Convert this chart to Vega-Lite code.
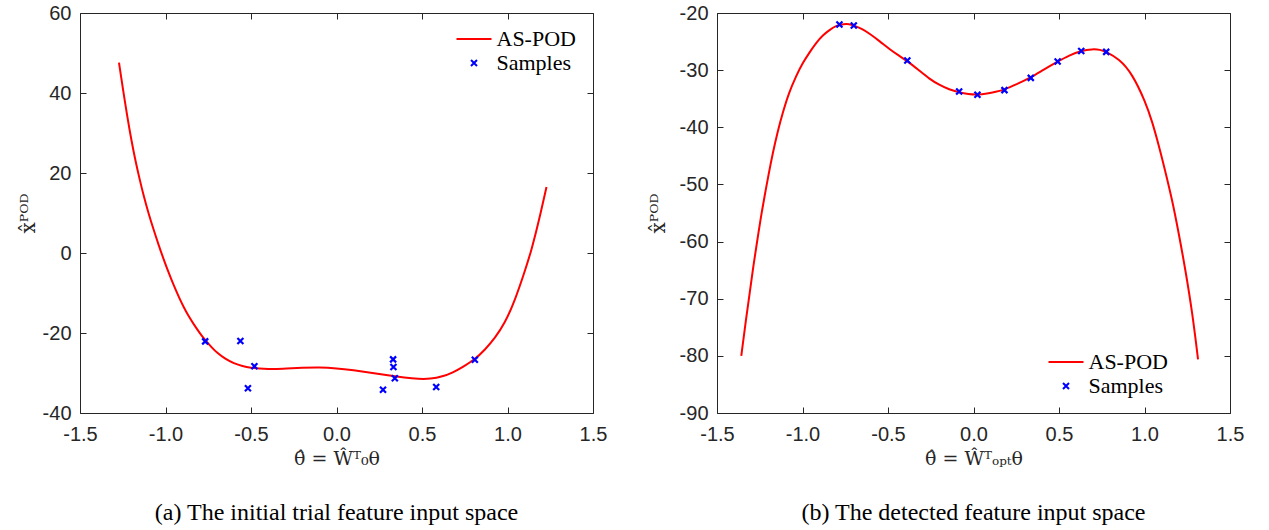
{
  "$schema": "https://vega.github.io/schema/vega-lite/v6.json",
  "background": "white",
  "padding": {"left": 17, "top": 2, "right": 5, "bottom": 0},
  "spacing": 39,
  "resolve": {"scale": {"color": "independent", "shape": "independent"}, "legend": {"color": "independent", "shape": "independent"}},
  "config": {
    "view": {"stroke": "#262626", "strokeWidth": 1},
    "axis": {
      "grid": false,
      "domain": false,
      "ticks": true,
      "tickSize": 6,
      "offset": -6,
      "tickColor": "#262626",
      "tickWidth": 1,
      "labelColor": "#262626",
      "titleColor": "#262626",
      "labelFont": "Liberation Sans",
      "labelFontSize": 20,
      "titleFont": "DejaVu Serif",
      "titleFontSize": 19,
      "titleFontWeight": "normal",
      "labelFlush": false
    },
    "axisX": {"labelPadding": 11, "titlePadding": 5},
    "axisY": {"labelPadding": 9, "titleFontSize": 20},
    "legend": {
      "title": null,
      "labelFont": "Liberation Serif",
      "labelFontSize": 22,
      "labelColor": "black",
      "symbolStrokeWidth": 2,
      "symbolSize": 400,
      "labelOffset": 11.5,
      "rowPadding": 2,
      "padding": 0,
      "labelLimit": 300
    }
  },
  "datasets": {
    "curveA": [
      {"x": -1.272, "y": 47.6}, {"x": -1.25, "y": 41.3}, {"x": -1.224, "y": 34.2}, {"x": -1.2, "y": 28.3},
      {"x": -1.175, "y": 22.9}, {"x": -1.15, "y": 18.2}, {"x": -1.126, "y": 14.0}, {"x": -1.1, "y": 10.0},
      {"x": -1.068, "y": 5.6}, {"x": -1.04, "y": 2.0}, {"x": -1.01, "y": -1.7}, {"x": -0.98, "y": -5.1},
      {"x": -0.951, "y": -8.2}, {"x": -0.92, "y": -11.2}, {"x": -0.893, "y": -13.6}, {"x": -0.865, "y": -15.8},
      {"x": -0.835, "y": -17.8}, {"x": -0.8, "y": -20.0}, {"x": -0.766, "y": -21.9}, {"x": -0.73, "y": -23.6},
      {"x": -0.7, "y": -24.9}, {"x": -0.65, "y": -26.5}, {"x": -0.6, "y": -27.6}, {"x": -0.55, "y": -28.3},
      {"x": -0.5, "y": -28.7}, {"x": -0.45, "y": -28.9}, {"x": -0.4, "y": -29.0}, {"x": -0.35, "y": -29.0},
      {"x": -0.3, "y": -28.9}, {"x": -0.2, "y": -28.7}, {"x": -0.1, "y": -28.6}, {"x": 0.0, "y": -28.8},
      {"x": 0.1, "y": -29.3}, {"x": 0.2, "y": -29.9}, {"x": 0.3, "y": -30.6}, {"x": 0.4, "y": -31.2},
      {"x": 0.48, "y": -31.5}, {"x": 0.55, "y": -31.5}, {"x": 0.62, "y": -30.9}, {"x": 0.68, "y": -29.9},
      {"x": 0.74, "y": -28.5}, {"x": 0.809, "y": -26.6}, {"x": 0.868, "y": -24.2}, {"x": 0.926, "y": -21.3},
      {"x": 0.984, "y": -17.6}, {"x": 1.043, "y": -11.9}, {"x": 1.101, "y": -4.6}, {"x": 1.14, "y": 0.7},
      {"x": 1.179, "y": 7.2}, {"x": 1.228, "y": 16.5}
    ],
    "samplesA": [
      {"x": -0.768, "y": -22.1, "series": "Samples"},
      {"x": -0.562, "y": -22.0, "series": "Samples"},
      {"x": -0.48, "y": -28.3, "series": "Samples"},
      {"x": -0.518, "y": -33.8, "series": "Samples"},
      {"x": 0.331, "y": -26.6, "series": "Samples"},
      {"x": 0.333, "y": -28.5, "series": "Samples"},
      {"x": 0.341, "y": -31.3, "series": "Samples"},
      {"x": 0.272, "y": -34.2, "series": "Samples"},
      {"x": 0.583, "y": -33.5, "series": "Samples"},
      {"x": 0.809, "y": -26.7, "series": "Samples"}
    ],
    "curveB": [
      {"x": -1.358, "y": -80.0}, {"x": -1.33, "y": -73.5}, {"x": -1.309, "y": -69.1}, {"x": -1.29, "y": -64.8},
      {"x": -1.27, "y": -60.9}, {"x": -1.245, "y": -56.0}, {"x": -1.222, "y": -52.1}, {"x": -1.2, "y": -48.5},
      {"x": -1.173, "y": -44.4}, {"x": -1.145, "y": -40.7}, {"x": -1.115, "y": -37.4}, {"x": -1.08, "y": -34.0},
      {"x": -1.037, "y": -31.0}, {"x": -1.0, "y": -28.8}, {"x": -0.959, "y": -26.9}, {"x": -0.92, "y": -25.2},
      {"x": -0.881, "y": -23.9}, {"x": -0.84, "y": -22.9}, {"x": -0.8, "y": -22.2}, {"x": -0.76, "y": -21.9},
      {"x": -0.726, "y": -21.9}, {"x": -0.7, "y": -22.2}, {"x": -0.65, "y": -22.8}, {"x": -0.609, "y": -23.6},
      {"x": -0.55, "y": -24.9}, {"x": -0.492, "y": -26.3}, {"x": -0.44, "y": -27.4}, {"x": -0.387, "y": -28.4},
      {"x": -0.32, "y": -30.0}, {"x": -0.259, "y": -31.5}, {"x": -0.2, "y": -32.6}, {"x": -0.142, "y": -33.4},
      {"x": -0.084, "y": -33.9}, {"x": -0.03, "y": -34.2}, {"x": 0.023, "y": -34.3}, {"x": 0.08, "y": -34.1},
      {"x": 0.13, "y": -33.8}, {"x": 0.181, "y": -33.4}, {"x": 0.25, "y": -32.5}, {"x": 0.335, "y": -31.3},
      {"x": 0.41, "y": -29.9}, {"x": 0.492, "y": -28.5}, {"x": 0.56, "y": -27.4}, {"x": 0.63, "y": -26.6},
      {"x": 0.695, "y": -26.3}, {"x": 0.74, "y": -26.4}, {"x": 0.776, "y": -26.8}, {"x": 0.85, "y": -28.0},
      {"x": 0.928, "y": -30.6}, {"x": 1.006, "y": -35.6}, {"x": 1.045, "y": -39.0}, {"x": 1.084, "y": -43.2},
      {"x": 1.12, "y": -47.5}, {"x": 1.161, "y": -52.6}, {"x": 1.2, "y": -58.5}, {"x": 1.239, "y": -64.9},
      {"x": 1.28, "y": -72.5}, {"x": 1.313, "y": -80.6}
    ],
    "samplesB": [
      {"x": -0.784, "y": -22.0, "series": "Samples"},
      {"x": -0.7, "y": -22.2, "series": "Samples"},
      {"x": -0.387, "y": -28.3, "series": "Samples"},
      {"x": -0.084, "y": -33.75, "series": "Samples"},
      {"x": 0.023, "y": -34.3, "series": "Samples"},
      {"x": 0.181, "y": -33.5, "series": "Samples"},
      {"x": 0.335, "y": -31.35, "series": "Samples"},
      {"x": 0.492, "y": -28.5, "series": "Samples"},
      {"x": 0.63, "y": -26.65, "series": "Samples"},
      {"x": 0.776, "y": -26.8, "series": "Samples"}
    ]
  },
  "hconcat": [
    {
      "width": 513,
      "height": 400,
      "title": {"text": "(a) The initial trial feature input space", "orient": "bottom", "anchor": "middle", "font": "Liberation Serif", "fontSize": 24, "fontWeight": "normal", "color": "black", "offset": 33},
      "resolve": {"axis": {"x": "independent", "y": "independent"}},
      "layer": [
        {
          "data": {"name": "curveA"},
          "mark": {"type": "line", "color": "#ff0000", "strokeWidth": 2, "interpolate": "basis"},
          "encoding": {
            "x": {"field": "x", "type": "quantitative", "scale": {"domain": [-1.5, 1.5], "nice": false, "zero": false},
              "axis": {"orient": "bottom", "values": [-1.5, -1, -0.5, 0, 0.5, 1, 1.5], "labelExpr": "replace(format(datum.value, '.1f'), '\u2212', '-')", "title": "θ̂ = Ŵᵀ₀θ"}},
            "y": {"field": "y", "type": "quantitative", "scale": {"domain": [-40, 60], "nice": false, "zero": false},
              "axis": {"orient": "left", "values": [-40, -20, 0, 20, 40, 60], "labelExpr": "replace(format(datum.value, 'd'), '\u2212', '-')", "title": "x̂ᴾᴼᴰ", "titlePadding": 4}}
          }
        },
        {
          "data": {"name": "samplesA"},
          "mark": {"type": "point", "filled": false, "strokeWidth": 2.2, "size": 400, "opacity": 1},
          "encoding": {
            "x": {"field": "x", "type": "quantitative", "axis": {"orient": "top", "labels": false, "title": null, "values": [-1.5, -1, -0.5, 0, 0.5, 1, 1.5]}},
            "y": {"field": "y", "type": "quantitative", "axis": {"orient": "right", "labels": false, "title": null, "values": [-40, -20, 0, 20, 40, 60]}},
            "color": {"field": "series", "type": "nominal", "scale": {"domain": ["AS-POD", "Samples"], "range": ["#ff0000", "#0000ff"]},
              "legend": {"orient": "none", "legendX": 383, "legendY": 15}},
            "shape": {"field": "series", "type": "nominal", "scale": {"domain": ["AS-POD", "Samples"], "range": ["M-1.75,0L1.75,0", "M-0.3,-0.3L0.3,0.3M0.3,-0.3L-0.3,0.3"]},
              "legend": {"orient": "none", "legendX": 383, "legendY": 15}}
          }
        }
      ]
    },
    {
      "width": 513,
      "height": 400,
      "title": {"text": "(b) The detected feature input space", "orient": "bottom", "anchor": "middle", "font": "Liberation Serif", "fontSize": 24, "fontWeight": "normal", "color": "black", "offset": 33},
      "resolve": {"axis": {"x": "independent", "y": "independent"}},
      "layer": [
        {
          "data": {"name": "curveB"},
          "mark": {"type": "line", "color": "#ff0000", "strokeWidth": 2, "interpolate": "basis"},
          "encoding": {
            "x": {"field": "x", "type": "quantitative", "scale": {"domain": [-1.5, 1.5], "nice": false, "zero": false},
              "axis": {"orient": "bottom", "values": [-1.5, -1, -0.5, 0, 0.5, 1, 1.5], "labelExpr": "replace(format(datum.value, '.1f'), '\u2212', '-')", "title": "θ̂ = Ŵᵀₒₚₜθ"}},
            "y": {"field": "y", "type": "quantitative", "scale": {"domain": [-90, -20], "nice": false, "zero": false},
              "axis": {"orient": "left", "values": [-90, -80, -70, -60, -50, -40, -30, -20], "labelExpr": "replace(format(datum.value, 'd'), '\u2212', '-')", "title": "x̂ᴾᴼᴰ", "titlePadding": 11}}
          }
        },
        {
          "data": {"name": "samplesB"},
          "mark": {"type": "point", "filled": false, "strokeWidth": 2.2, "size": 400, "opacity": 1},
          "encoding": {
            "x": {"field": "x", "type": "quantitative", "axis": {"orient": "top", "labels": false, "title": null, "values": [-1.5, -1, -0.5, 0, 0.5, 1, 1.5]}},
            "y": {"field": "y", "type": "quantitative", "axis": {"orient": "right", "labels": false, "title": null, "values": [-90, -80, -70, -60, -50, -40, -30, -20]}},
            "color": {"field": "series", "type": "nominal", "scale": {"domain": ["AS-POD", "Samples"], "range": ["#ff0000", "#0000ff"]},
              "legend": {"orient": "none", "legendX": 338, "legendY": 338}},
            "shape": {"field": "series", "type": "nominal", "scale": {"domain": ["AS-POD", "Samples"], "range": ["M-1.75,0L1.75,0", "M-0.3,-0.3L0.3,0.3M0.3,-0.3L-0.3,0.3"]},
              "legend": {"orient": "none", "legendX": 338, "legendY": 338}}
          }
        }
      ]
    }
  ]
}
